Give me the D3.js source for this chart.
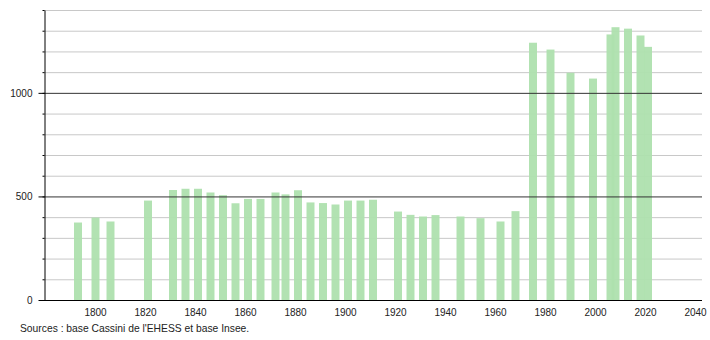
<!DOCTYPE html>
<html>
<head>
<meta charset="utf-8">
<script src="https://cdnjs.cloudflare.com/ajax/libs/d3/7.8.5/d3.min.js"></script>
<style>
  body { margin: 0; background: #fff; }
  .canvas text { font-family: "Liberation Sans", Arial, sans-serif; }
</style>
</head>
<body>
<div class="canvas"></div>
<script>
const years = [1793, 1800, 1806, 1821, 1831, 1836, 1841, 1846, 1851, 1856,
  1861, 1866, 1872, 1876, 1881, 1886, 1891, 1896, 1901, 1906, 1911,
  1921, 1926, 1931, 1936, 1946, 1954, 1962, 1968, 1975, 1982, 1990,
  1999, 2006, 2008, 2013, 2018, 2021]
const population = [374, 398, 379, 480, 531, 537, 537, 519, 506, 467,
  488, 488, 519, 510, 530, 471, 468, 461, 480, 480, 484,
  427, 411, 403, 410, 403, 395, 379, 429, 1242, 1209, 1097,
  1069, 1282, 1317, 1310, 1277, 1222]
const yearTicks = [1800, 1820, 1840, 1860, 1880, 1900, 1920, 1940, 1960, 1980, 2000, 2020, 2040]
const popTicks = [0, 500, 1000]
const gridTicks = d3.range(0, 1401, 100)

const width = 710, height = 340
const svg = d3.select('.canvas').append('svg').attr('width', width).attr('height', height)

const [ml, mr, mt, mb] = [44, 702, 10, 300]

const x = d3.scaleLinear().domain([1780, 2040]).range([ml + 1, 695])
const y = d3.scaleLinear().domain([0, 1400]).range([mb, mt])

// light grid
svg.append('g')
    .selectAll('line')
    .data(gridTicks.filter(d => d % 500 !== 0))
    .enter()
    .append('line')
    .attr('x1', ml).attr('x2', mr)
    .attr('y1', d => y(d) + 0.5).attr('y2', d => y(d) + 0.5)
    .attr('stroke', '#c8c8c8')

const data = years.map((yr, i) => ({ year: yr, pop: population[i] }))

svg.append('g')
    .selectAll('rect')
    .data(data)
    .enter()
    .append('rect')
    .attr('x', d => x(d.year) - 3.5)
    .attr('width', 8)
    .attr('y', d => y(d.pop))
    .attr('height', d => mb - y(d.pop))
    .attr('fill', '#aee0ae')
    .attr('opacity', 0.95)

// dark grid at 500 / 1000
svg.append('g')
    .selectAll('line')
    .data([500, 1000])
    .enter()
    .append('line')
    .attr('x1', ml).attr('x2', mr)
    .attr('y1', d => y(d) + 0.5).attr('y2', d => y(d) + 0.5)
    .attr('stroke', '#333')

// minor ticks on y axis
const yMinor = d3.axisLeft(y).tickValues(gridTicks).tickSize(2).tickFormat('')
svg.append('g').attr('transform', `translate(${ml + 0.5}, 0)`).call(yMinor)
    .call(g => g.select('.domain').remove())

const yAxis = d3.axisLeft(y).tickValues(popTicks).tickSize(6).tickSizeOuter(0).tickPadding(6)
    .tickFormat(d3.format('d'))
const yAxisG = svg.append('g').attr('transform', `translate(${ml + 0.5}, 0)`).call(yAxis)
yAxisG.select('.domain').attr('stroke', '#000')
yAxisG.selectAll('text').style('font-size', '10px').attr('fill', '#222')

// x axis
const xAxis = d3.axisBottom(x).tickValues(yearTicks).tickSize(0).tickPadding(9).tickFormat(d3.format('d'))
const xAxisG = svg.append('g').attr('transform', `translate(0, ${mb})`).call(xAxis)
xAxisG.select('.domain').remove()
xAxisG.selectAll('text').style('font-size', '10px').attr('fill', '#222')

svg.append('line')
    .attr('x1', ml).attr('x2', mr)
    .attr('y1', mb + 0.5).attr('y2', mb + 0.5)
    .attr('stroke', '#000')

svg.append('text')
    .attr('x', 20)
    .attr('y', 332)
    .style('font-size', '10.3px')
    .attr('fill', '#222')
    .text("Sources : base Cassini de l'EHESS et base Insee.")
</script>
</body>
</html>
